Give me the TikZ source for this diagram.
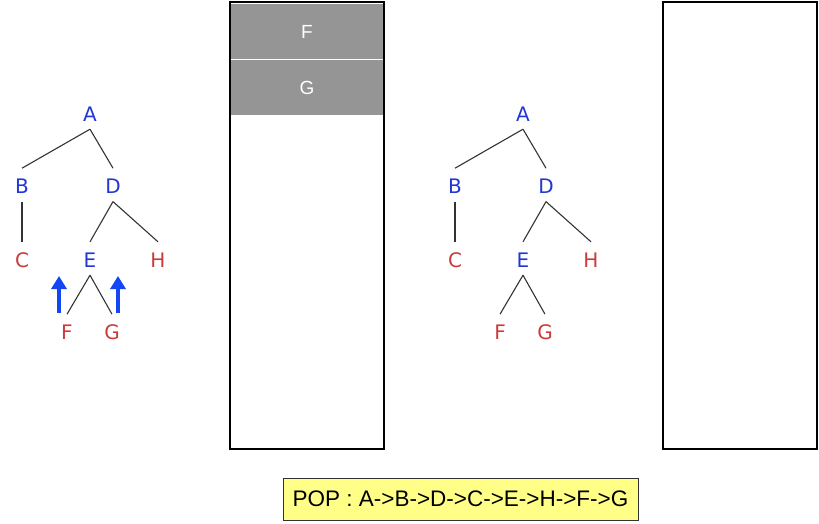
\documentclass[tikz,border=0pt]{standalone}
\usepackage{fontspec}
\setmainfont{Liberation Sans}
\newfontfamily\treefamily{DejaVu Sans}
\usepackage{xcolor}
\definecolor{visited}{HTML}{2236D8}
\definecolor{pending}{HTML}{CC3A3A}
\definecolor{branchgray}{HTML}{333333}
\definecolor{pointerblue}{HTML}{1346F5}
\definecolor{cellgray}{HTML}{959595}
\definecolor{notefill}{HTML}{FFFF88}
\usepackage{tikz}
\usetikzlibrary{arrows.meta, positioning}

\begin{document}
\begin{tikzpicture}[x=1pt, y=-1pt,
  visit/.style={font={\treefamily\fontsize{20}{24}\selectfont}, text=visited,
                text height=20.3pt, text depth=2.7pt, inner xsep=1pt, inner ysep=5pt, anchor=base},
  wait/.style={visit, text=pending},
  branch/.style={draw=branchgray, line width=1.1pt},
  stackbox/.style={draw=black, line width=1.7pt, minimum width=154pt,
                   minimum height=447pt, inner sep=0pt},
  stackcell/.style={fill=cellgray, text=white, font=\fontsize{19}{22}\selectfont,
                    minimum width=152pt, minimum height=55pt, inner sep=0pt},
  pointer/.style={draw=pointerblue, line width=4.5pt,
                  -{Triangle[length=13pt, width=15pt]}}]

  \useasboundingbox (0,0) rectangle (819,523);

  % the two trees
  \foreach \side/\dx in {L/0, R/433} {
    \begin{scope}[xshift=\dx, name prefix=\side]
      \node[visit] (A) at (90,121.3) {A};
      \node[visit] (B) at (22,193.7) {B};
      \node[visit] (D) at (113,193.7) {D};
      \node[wait]  (C) at (22,267.3) {C};
      \node[visit] (E) at (90,267.3) {E};
      \node[wait]  (H) at (158,267.3) {H};
      \node[wait]  (F) at (67,339.7) {F};
      \node[wait]  (G) at (112,339.7) {G};

      \draw[branch] (A.south) -- (B.north);
      \draw[branch] (A.south) -- (D.north);
      \draw[branch] (B.south) -- (C.north);
      \draw[branch] (D.south) -- (E.north);
      \draw[branch] (D.south) -- (H.north);
      \draw[branch] (E.south) -- (F.north);
      \draw[branch] (E.south) -- (G.north);
    \end{scope}
  }

  % pointers at F and G
  \coordinate (tailF) at (59,313);
  \coordinate (tipF) at (59,276);
  \coordinate (tailG) at (118,313);
  \coordinate (tipG) at (118,276);
  \draw[pointer] (tailF) -- (tipF);
  \draw[pointer] (tailG) -- (tipG);

  % stacks
  \node[stackbox] (stack) at (307,225.5) {};
  \node[stackcell] (cellF) at (307,31.5) {F};
  \node[stackcell, below=1pt of cellF] (cellG) {G};
  \node[stackbox] (stackdone) at (740,225.5) {};

  \node[draw=branchgray, fill=notefill, line width=0.8pt,
        minimum width=355pt, minimum height=42pt,
        font=\fontsize{22.5}{26}\selectfont] (order) at (460.5,499)
        {POP : A->B->D->C->E->H->F->G};

\end{tikzpicture}
\end{document}
